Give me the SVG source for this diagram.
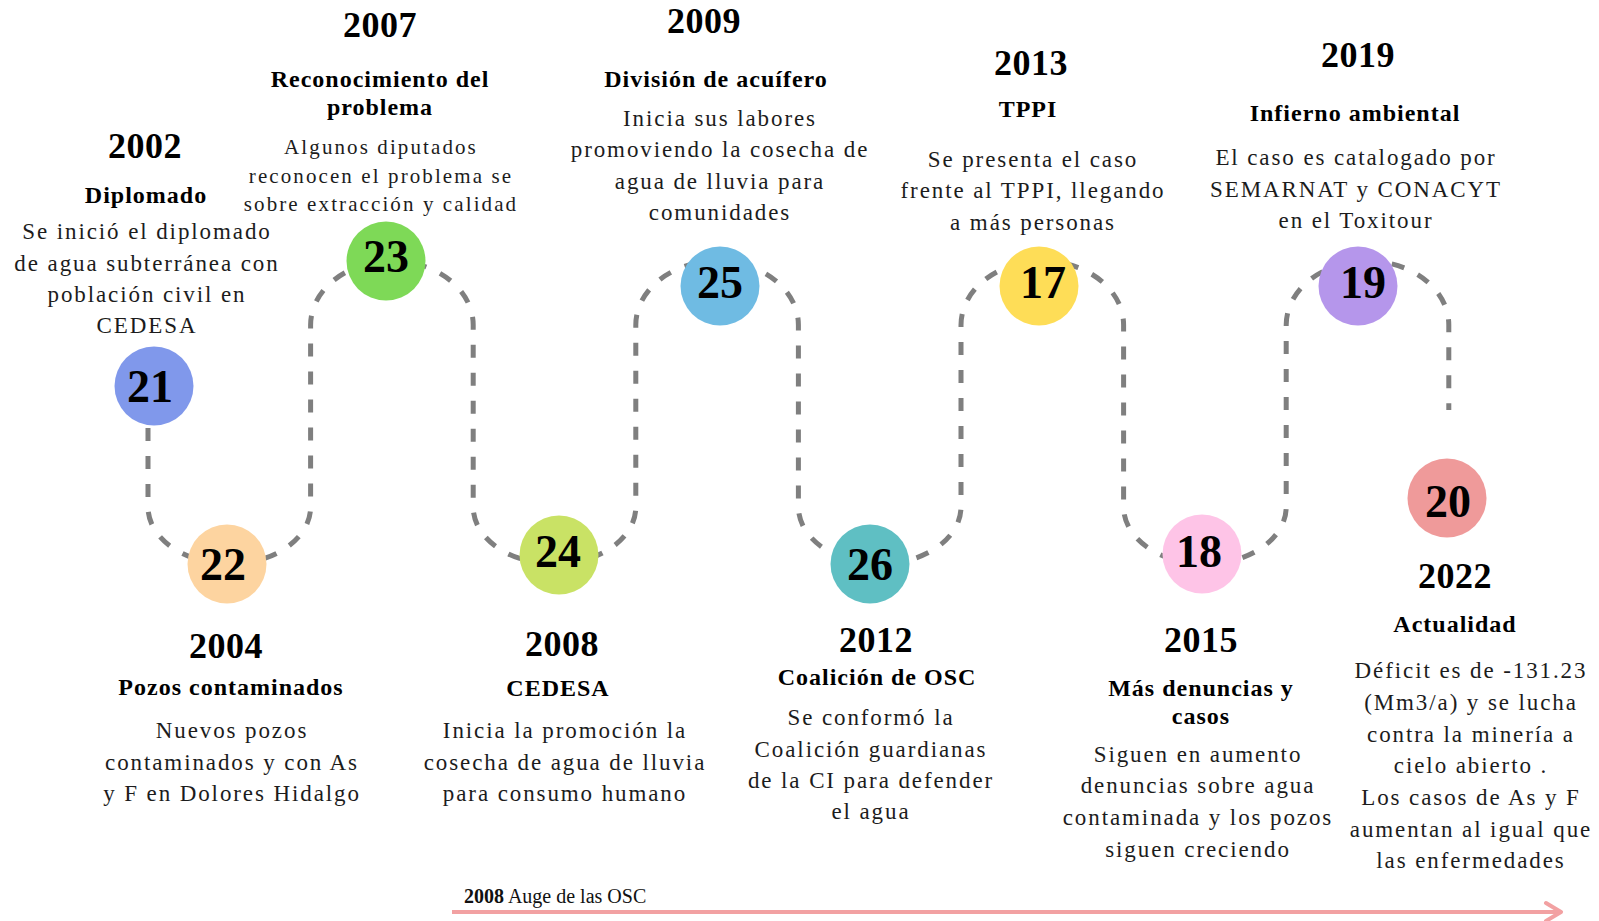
<svg xmlns="http://www.w3.org/2000/svg" width="1599" height="921" viewBox="0 0 1599 921">
<defs>
<style>
text{font-family:"Liberation Serif","Times New Roman",serif;text-anchor:middle}
.yr{font-weight:bold;font-size:36px;fill:#000;letter-spacing:0.5px}
.hd{font-weight:bold;font-size:24px;fill:#000;letter-spacing:1px}
.ds{font-size:23px;fill:#1c1c1c;letter-spacing:1.9px}
.ds2{font-size:21px;fill:#1c1c1c;letter-spacing:2.1px}
.num{font-weight:bold;font-size:46px;fill:#000}
.lbl{font-size:20px;fill:#111;text-anchor:start}
.path{fill:none;stroke:#7f7f7f;stroke-width:5;stroke-dasharray:13 15}
.axis{fill:none;stroke:#f2a1a2;stroke-width:4}
</style>
<marker id="ah" markerUnits="userSpaceOnUse" markerWidth="24" markerHeight="26" refX="19" refY="13" orient="auto">
<path d="M4,4 L19,13 L4,22" fill="none" stroke="#f2a1a2" stroke-width="4" stroke-linecap="round" stroke-linejoin="round"/>
</marker>
</defs>
<rect width="1599" height="921" fill="#fff"/>

<g id="connectors">
<path class="path" d="M148,428 V507 A81.3,57 0 0 0 310.6,507 V325 A81.3,64 0 0 1 473.2,325 V507 A81.3,57 0 0 0 635.8,507 V325 A81.3,64 0 0 1 798.4,325 V507 A81.3,57 0 0 0 961,507 V325 A81.3,64 0 0 1 1123.6,325 V507 A81.3,57 0 0 0 1286.2,507 V325 A81.3,64 0 0 1 1448.8,325 V410"/>
<line class="axis" x1="452" y1="912" x2="1561" y2="912" marker-end="url(#ah)"/>
</g>

<g id="node-21">
<circle cx="154" cy="386" r="39.5" fill="#8098eb"/>
<text class="num" x="150" y="402">21</text>
<text class="yr" x="145" y="158">2002</text>
<text class="hd" x="146" y="203">Diplomado</text>
<text class="ds" x="147" y="239">Se inició el diplomado</text>
<text class="ds" x="147" y="271">de agua subterránea con</text>
<text class="ds" x="147" y="302">población civil en</text>
<text class="ds" x="147" y="333">CEDESA</text>
</g>

<g id="node-22">
<circle cx="227" cy="564" r="39.5" fill="#fdd4a0"/>
<text class="num" x="223" y="580">22</text>
<text class="yr" x="226" y="658">2004</text>
<text class="hd" x="231" y="695">Pozos contaminados</text>
<text class="ds" x="232" y="738">Nuevos pozos</text>
<text class="ds" x="232" y="770">contaminados y con As</text>
<text class="ds" x="232" y="801">y F en Dolores Hidalgo</text>
</g>

<g id="node-23">
<circle cx="386" cy="261" r="39.5" fill="#7ed957"/>
<text class="num" x="386" y="272">23</text>
<text class="yr" x="380" y="37">2007</text>
<text class="hd" x="380" y="87">Reconocimiento del</text>
<text class="hd" x="380" y="115">problema</text>
<text class="ds2" x="381" y="154">Algunos diputados</text>
<text class="ds2" x="381" y="183">reconocen el problema se</text>
<text class="ds2" x="381" y="211">sobre extracción y calidad</text>
</g>

<g id="node-24">
<circle cx="559" cy="555" r="39.5" fill="#c9e265"/>
<text class="num" x="558" y="567">24</text>
<text class="yr" x="562" y="656">2008</text>
<text class="hd" x="558" y="696">CEDESA</text>
<text class="ds" x="565" y="738">Inicia la promoción la</text>
<text class="ds" x="565" y="770">cosecha de agua de lluvia</text>
<text class="ds" x="565" y="801">para consumo humano</text>
</g>

<g id="node-25">
<circle cx="720" cy="286" r="39.5" fill="#6fbbe3"/>
<text class="num" x="720" y="298">25</text>
<text class="yr" x="704" y="33">2009</text>
<text class="hd" x="716" y="87">División de acuífero</text>
<text class="ds" x="720" y="126">Inicia sus labores</text>
<text class="ds" x="720" y="157">promoviendo la cosecha de</text>
<text class="ds" x="720" y="189">agua de lluvia para</text>
<text class="ds" x="720" y="220">comunidades</text>
</g>

<g id="node-26">
<circle cx="870" cy="564" r="39.5" fill="#5fbfc3"/>
<text class="num" x="870" y="580">26</text>
<text class="yr" x="876" y="652">2012</text>
<text class="hd" x="877" y="685">Coalición de OSC</text>
<text class="ds" x="871" y="725">Se conformó la</text>
<text class="ds" x="871" y="757">Coalición guardianas</text>
<text class="ds" x="871" y="788">de la CI para defender</text>
<text class="ds" x="871" y="819">el agua</text>
</g>

<g id="node-17">
<circle cx="1039" cy="286" r="39.5" fill="#fedd57"/>
<text class="num" x="1043" y="298">17</text>
<text class="yr" x="1031" y="75">2013</text>
<text class="hd" x="1028" y="117">TPPI</text>
<text class="ds" x="1033" y="167">Se presenta el caso</text>
<text class="ds" x="1033" y="198">frente al TPPI, llegando</text>
<text class="ds" x="1033" y="230">a más personas</text>
</g>

<g id="node-18">
<circle cx="1202" cy="554" r="39.5" fill="#fec4e7"/>
<text class="num" x="1199" y="567">18</text>
<text class="yr" x="1201" y="652">2015</text>
<text class="hd" x="1201" y="696">Más denuncias y</text>
<text class="hd" x="1201" y="724">casos</text>
<text class="ds" x="1198" y="762">Siguen en aumento</text>
<text class="ds" x="1198" y="793">denuncias sobre agua</text>
<text class="ds" x="1198" y="825">contaminada y los pozos</text>
<text class="ds" x="1198" y="857">siguen creciendo</text>
</g>

<g id="node-19">
<circle cx="1358" cy="286" r="39.5" fill="#b596eb"/>
<text class="num" x="1363" y="298">19</text>
<text class="yr" x="1358" y="67">2019</text>
<text class="hd" x="1355" y="121">Infierno ambiental</text>
<text class="ds" x="1356" y="165">El caso es catalogado por</text>
<text class="ds" x="1356" y="197">SEMARNAT y CONACYT</text>
<text class="ds" x="1356" y="228">en el Toxitour</text>
</g>

<g id="node-20">
<circle cx="1447" cy="498" r="39.5" fill="#ef9a9a"/>
<text class="num" x="1448" y="517">20</text>
<text class="yr" x="1455" y="588">2022</text>
<text class="hd" x="1455" y="632">Actualidad</text>
<text class="ds" x="1471" y="678">Déficit es de -131.23</text>
<text class="ds" x="1471" y="710">(Mm3/a) y se lucha</text>
<text class="ds" x="1471" y="742">contra la minería a</text>
<text class="ds" x="1471" y="773">cielo abierto .</text>
<text class="ds" x="1471" y="805">Los casos de As y F</text>
<text class="ds" x="1471" y="837">aumentan al igual que</text>
<text class="ds" x="1471" y="868">las enfermedades</text>
</g>

<g id="axis-label">
<text class="lbl" x="464" y="903"><tspan font-weight="bold">2008</tspan> Auge de las OSC</text>
</g>
</svg>
